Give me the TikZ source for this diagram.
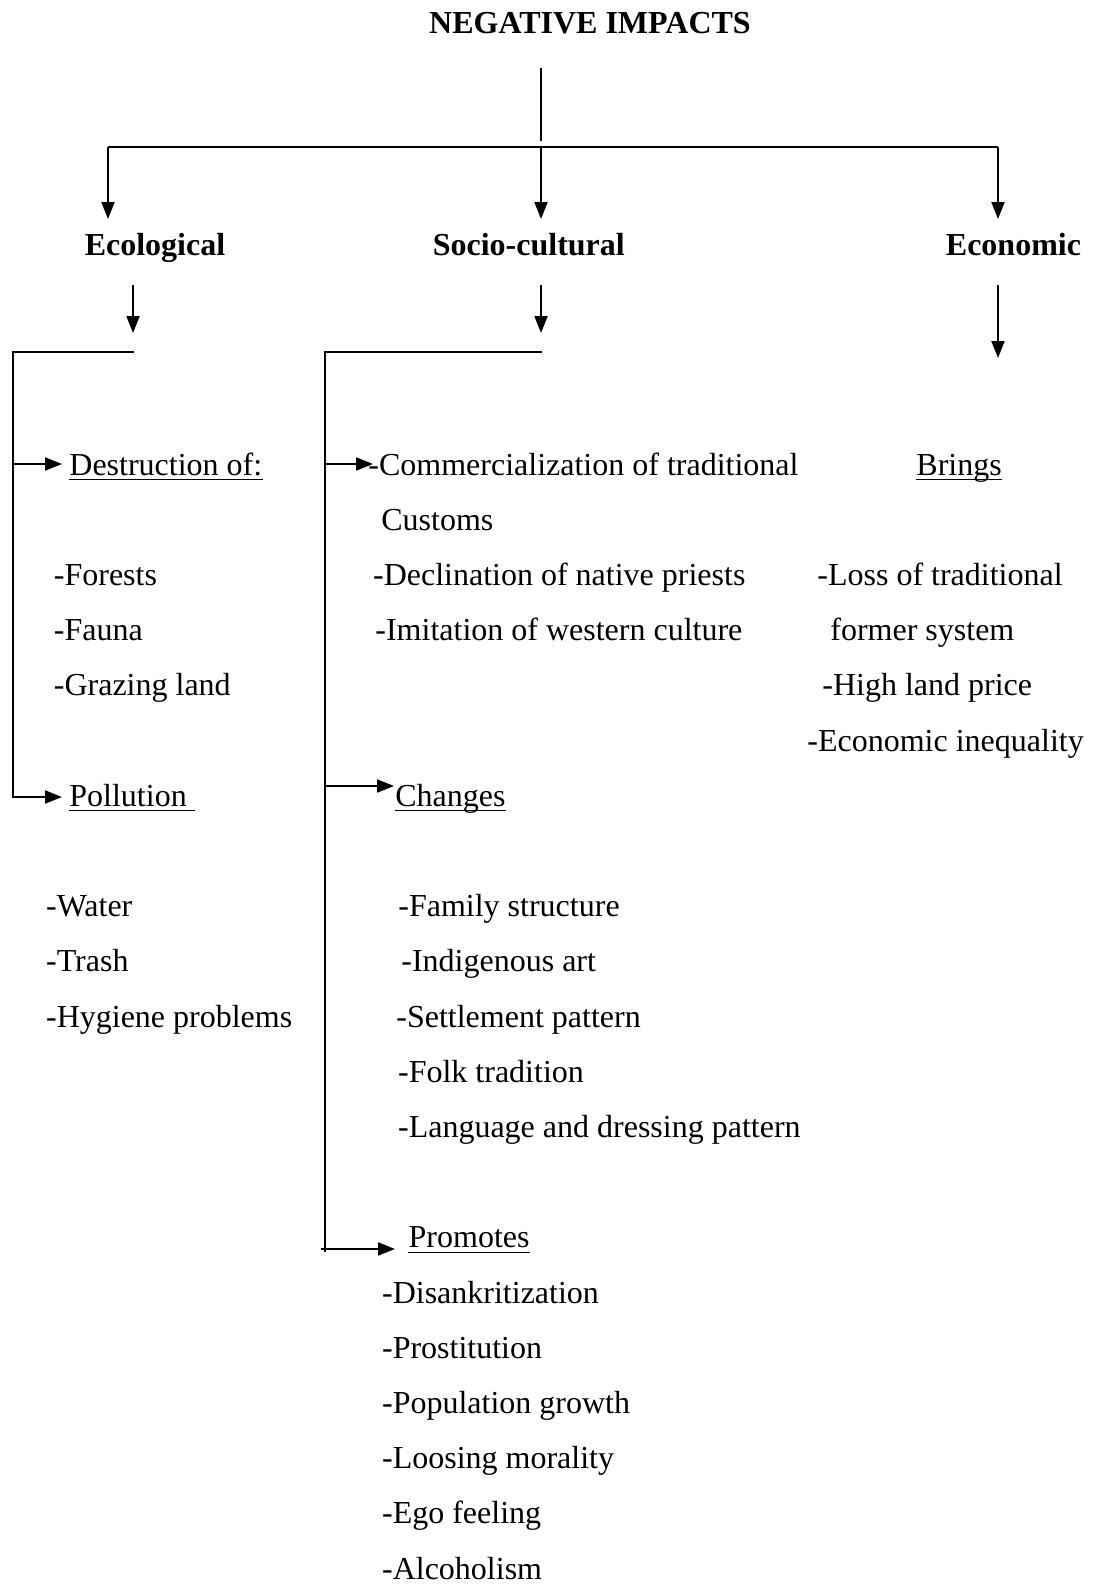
\documentclass[tikz,border=0pt]{standalone}
\usepackage{fontspec}
\setmainfont{Liberation Serif}
\usetikzlibrary{arrows.meta}
\begin{document}
\begin{tikzpicture}[x=0.5pt,y=-0.5pt,
  txt/.style={anchor=base west,inner sep=0pt,font=\fontsize{16}{19}\selectfont},
  hd/.style={txt,font=\fontsize{16}{19}\selectfont\bfseries},
  ln/.style={line width=1pt},
  arr/.style={ln,-{Triangle[length=8.5pt,width=6.5pt]}},
  ulline/.style={line width=0.75pt}]
\useasboundingbox (0,0) rectangle (1092,1584);
\def\rowy#1{\fpeval{475+55.2*#1}}
% headings
\node[hd,anchor=base] (title) at (590,34) {NEGATIVE IMPACTS};
\node[hd] (eco) at (84.4,255) {Ecological};
\node[hd] (soc) at (432.4,255) {Socio-cultural};
\node[hd] (econ) at (945.5,255) {Economic};
% ecological column
\node[txt] (destr) at (69,{\rowy{0}}) {Destruction of:};
\node[txt] (forests) at (53.5,{\rowy{2}}) {-Forests};
\node[txt] (fauna) at (53.5,{\rowy{3}}) {-Fauna};
\node[txt] (grazing) at (53.5,{\rowy{4}}) {-Grazing land};
\node[txt] (poll) at (69,{\rowy{6}}) {Pollution\kern0.25em};
\node[txt] (water) at (45.7,{\rowy{8}}) {-Water};
\node[txt] (trash) at (45.7,{\rowy{9}}) {-Trash};
\node[txt] (hyg) at (45.7,{\rowy{10}}) {-Hygiene problems};
% socio-cultural column
\node[txt] (comm) at (368,{\rowy{0}}) {-Commercialization of traditional};
\node[txt] (cust) at (381,{\rowy{1}}) {Customs};
\node[txt] (decl) at (372.7,{\rowy{2}}) {-Declination of native priests};
\node[txt] (imit) at (375,{\rowy{3}}) {-Imitation of western culture};
\node[txt] (chg) at (395,{\rowy{6}}) {Changes};
\node[txt] (fam) at (398,{\rowy{8}}) {-Family structure};
\node[txt] (indig) at (401,{\rowy{9}}) {-Indigenous art};
\node[txt] (settl) at (396,{\rowy{10}}) {-Settlement pattern};
\node[txt] (folk) at (397.7,{\rowy{11}}) {-Folk tradition};
\node[txt] (lang) at (397.7,{\rowy{12}}) {-Language and dressing pattern};
\node[txt] (prom) at (408.3,{\rowy{14}}) {Promotes};
\node[txt] (dis) at (381.7,{\rowy{15}}) {-Disankritization};
\node[txt] (prost) at (381.7,{\rowy{16}}) {-Prostitution};
\node[txt] (pop) at (381.7,{\rowy{17}}) {-Population growth};
\node[txt] (loos) at (381.7,{\rowy{18}}) {-Loosing morality};
\node[txt] (ego) at (381.7,{\rowy{19}}) {-Ego feeling};
\node[txt] (alc) at (381.7,{\rowy{20}}) {-Alcoholism};
% economic column
\node[txt] (brings) at (916,{\rowy{0}}) {Brings};
\node[txt] (loss) at (817,{\rowy{2}}) {-Loss of traditional};
\node[txt] (former) at (830,{\rowy{3}}) {former system};
\node[txt] (high) at (822,{\rowy{4}}) {-High land price};
\node[txt] (ineq) at (807,{\rowy{5}}) {-Economic inequality};
% underlines
\foreach \n in {destr,poll,chg,prom,brings}
  \draw[ulline] ([yshift=-2.25pt]\n.base west) -- ([yshift=-2.25pt]\n.base east);
% tree connectors
\coordinate (t1) at (541,68);
\coordinate (t2) at (541,141);
\coordinate (hL) at (108,147);
\coordinate (hM) at (541,147);
\coordinate (hR) at (998,147);
\coordinate (aL) at (108,219);
\coordinate (aM) at (541,219);
\coordinate (aR) at (998,219);
\draw[ln] (t1) -- (t2);
\draw[ln] (hL) -- (hR);
\draw[arr] (hL) -- (aL);
\draw[arr] (hM) -- (aM);
\draw[arr] (hR) -- (aR);
% second-level arrows
\coordinate (e1) at (133,285);
\coordinate (e2) at (133,333);
\coordinate (s1) at (541,285);
\coordinate (s2) at (541,333);
\coordinate (c1) at (998,285);
\coordinate (c2) at (998,358);
\draw[arr] (e1) -- (e2);
\draw[arr] (s1) -- (s2);
\draw[arr] (c1) -- (c2);
% ecological bracket
\coordinate (eb) at (134,352);
\coordinate (ebc) at (13,352);
\coordinate (ebd) at (13,464);
\coordinate (ebp) at (13,797);
\coordinate (eda) at (62,464);
\coordinate (epa) at (62,797);
\draw[arr] (eb) -- (ebc) -- (ebp) -- (epa);
\draw[arr] (ebd) -- (eda);
% socio-cultural bracket
\coordinate (sb) at (542,352);
\coordinate (sbc) at (325,352);
\coordinate (sbe) at (325,1252);
\coordinate (sc) at (325,464);
\coordinate (sca) at (373,464);
\coordinate (sg) at (325,786);
\coordinate (sga) at (394,786);
\coordinate (sp) at (321,1249);
\coordinate (spa) at (395,1249);
\draw[ln] (sb) -- (sbc) -- (sbe);
\draw[arr] (sc) -- (sca);
\draw[arr] (sg) -- (sga);
\draw[arr] (sp) -- (spa);
\end{tikzpicture}
\end{document}
